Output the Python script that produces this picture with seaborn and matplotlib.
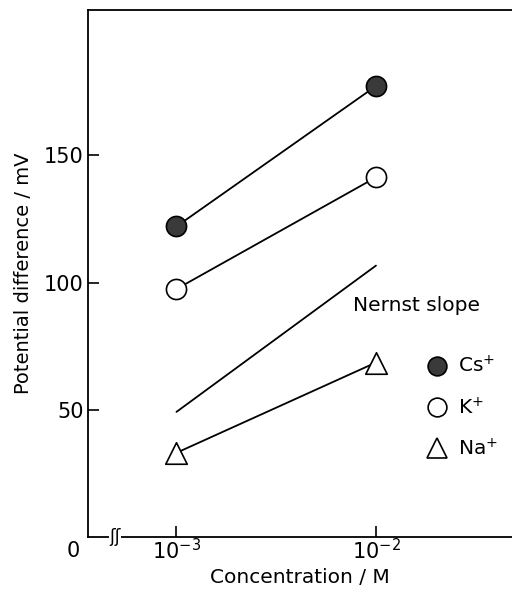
import numpy as np
import pandas as pd
import matplotlib
matplotlib.use("Agg")
import matplotlib.pyplot as plt
import seaborn as sns
from matplotlib.lines import Line2D

# concentrations (M) and potential differences (mV)
conc = [1e-3, 1e-2]
cs_mv = [122.1, 177.3]
k_mv = [97.5, 141.4]
na_mv = [33.1, 68.6]
nernst_mv = [49.2, 106.7]

ions = ["Cs$^{+}$", "K$^{+}$", "Na$^{+}$"]
ion_fill = ["#3a3a3a", "white", "white"]
ion_marker = ["o", "o", "^"]

df = pd.DataFrame({
    "conc": conc * 3,
    "mv": cs_mv + k_mv + na_mv,
    "ion": [i for i in ions for _ in conc],
})
df_nernst = pd.DataFrame({"conc": conc, "mv": nernst_mv})

sns.set_theme(style="ticks")
plt.rcParams["font.family"] = ["DejaVu Sans"]
plt.rcParams["text.color"] = "black"
plt.rcParams["axes.labelcolor"] = "black"

fig = plt.figure(figsize=(5.12, 5.89), dpi=100)
ax = fig.add_axes([88 / 512, 1 - 537 / 589, 1 - 88 / 512, (537 - 10) / 589])

# connecting lines
sns.lineplot(data=df, x="conc", y="mv", units="ion", estimator=None,
             color="black", lw=1.3, ax=ax, zorder=2)
sns.lineplot(data=df_nernst, x="conc", y="mv", color="black", lw=1.3, ax=ax, zorder=2)

# markers
for name, fill, mk in zip(ions, ion_fill, ion_marker):
    sub = df[df["ion"] == name]
    sns.scatterplot(data=sub, x="conc", y="mv", marker=mk, s=210 if mk == "o" else 240,
                    color=fill, edgecolor="black", linewidth=1.2, ax=ax, zorder=3,
                    legend=False)

ax.set_xscale("log")
ax.set_xlim(10 ** -3.4436, 10 ** -1.318)
ax.set_ylim(0, 207.2)
ax.set_xticks(conc)
ax.set_xticklabels(["$10^{-3}$", "$10^{-2}$"])
ax.minorticks_off()
ax.set_yticks([50, 100, 150])
ax.tick_params(direction="in", length=8, width=1.2, labelsize=15, pad=3, colors="black")
ax.tick_params(axis="x", pad=1)

for side in ["left", "bottom", "top"]:
    ax.spines[side].set_linewidth(1.3)
    ax.spines[side].set_color("black")
ax.spines["right"].set_visible(False)

ax.set_xlabel("Concentration / M", fontsize=14.5, labelpad=3)
ax.set_ylabel("Potential difference / mV", fontsize=14, labelpad=8)

# zero label and axis break
ax.text(-0.035, -0.008, "0", transform=ax.transAxes, fontsize=15, ha="center", va="top")
ax.text(0.063, 0.0, "ʃʃ", transform=ax.transAxes, fontsize=12, ha="center", va="center",
        bbox=dict(fc="white", ec="none", pad=0.2))

# legend
ax.text(0.625, 0.44, "Nernst slope", transform=ax.transAxes, fontsize=14.5, ha="left", va="center")
handles = [Line2D([], [], ls="none", marker=mk, markersize=13.5 if mk == "o" else 14,
                  markerfacecolor=fc, markeredgecolor="black", markeredgewidth=1.2)
           for fc, mk in zip(ion_fill, ion_marker)]
ax.legend(handles, ions, loc="upper left", bbox_to_anchor=(0.78, 0.36), frameon=False,
          fontsize=14.5, handlelength=1.0, handletextpad=0.55, labelspacing=1.0,
          borderaxespad=0)

fig.savefig("out.png", dpi=100)
